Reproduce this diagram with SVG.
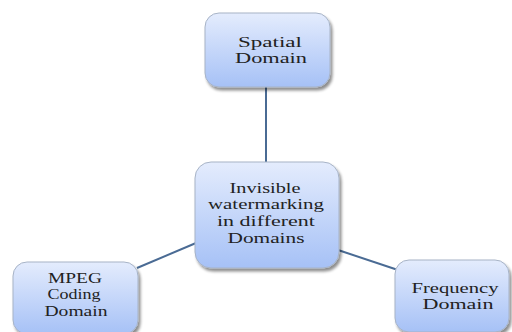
<svg xmlns="http://www.w3.org/2000/svg" width="512" height="332" viewBox="0 0 512 332">
<defs>
<linearGradient id="g" x1="0" y1="0" x2="0" y2="1">
<stop offset="0" stop-color="#e4ecfd"/>
<stop offset="1" stop-color="#a6c1f6"/>
</linearGradient>
<filter id="sh" x="-20%" y="-20%" width="140%" height="140%">
<feGaussianBlur in="SourceAlpha" stdDeviation="1.5"/>
<feOffset dx="2" dy="3" result="b"/>
<feComponentTransfer><feFuncA type="linear" slope="0.45"/></feComponentTransfer>
<feMerge><feMergeNode/><feMergeNode in="SourceGraphic"/></feMerge>
</filter>
<style>
.box{fill:url(#g);stroke:#a7b3c6;stroke-width:1;filter:url(#sh)}
.t{font-family:"Liberation Serif","Times New Roman",serif;font-size:15px;fill:#222;text-anchor:middle}
.s{font-size:14px}
.c{stroke:#4a6b94;stroke-width:2;fill:none}
</style>
</defs>
<rect width="512" height="332" fill="#fff"/>
<g id="connectors">
<line class="c" x1="266" y1="87" x2="266" y2="162"/>
<line class="c" x1="196" y1="243" x2="137" y2="268"/>
<line class="c" x1="338" y1="250" x2="398" y2="270"/>
</g>
<g id="spatial">
<rect class="box" x="205" y="13" width="125" height="74" rx="14"/>
<text class="t" x="270" y="47" textLength="64" lengthAdjust="spacingAndGlyphs">Spatial</text>
<text class="t" x="271" y="63" textLength="72" lengthAdjust="spacingAndGlyphs">Domain</text>
</g>
<g id="center">
<rect class="box" x="195" y="162" width="144" height="106" rx="16"/>
<text class="t" x="265" y="193" textLength="71" lengthAdjust="spacingAndGlyphs">Invisible</text>
<text class="t" x="266" y="209" textLength="116" lengthAdjust="spacingAndGlyphs">watermarking</text>
<text class="t" x="266" y="226" textLength="98" lengthAdjust="spacingAndGlyphs">in different</text>
<text class="t" x="266" y="243" textLength="77" lengthAdjust="spacingAndGlyphs">Domains</text>
</g>
<g id="mpeg">
<rect class="box" x="13" y="262" width="125" height="72" rx="14"/>
<text class="t s" x="75" y="283" textLength="54" lengthAdjust="spacingAndGlyphs">MPEG</text>
<text class="t s" x="74" y="299" textLength="53" lengthAdjust="spacingAndGlyphs">Coding</text>
<text class="t s" x="76" y="316" textLength="63" lengthAdjust="spacingAndGlyphs">Domain</text>
</g>
<g id="frequency">
<rect class="box" x="395" y="260" width="114" height="72" rx="14"/>
<text class="t s" x="455" y="293" textLength="87" lengthAdjust="spacingAndGlyphs">Frequency</text>
<text class="t s" x="458" y="309" textLength="71" lengthAdjust="spacingAndGlyphs">Domain</text>
</g>
</svg>
